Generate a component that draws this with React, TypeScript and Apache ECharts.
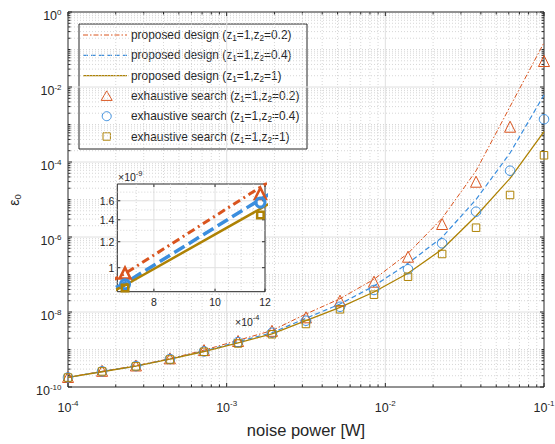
import React, { useEffect, useRef } from 'react';
import * as echarts from 'echarts';

// ---------------- data ----------------
const noisePower = [1e-4, 1.64e-4, 2.68e-4, 4.39e-4, 7.2e-4, 1.18e-3, 1.93e-3, 3.16e-3, 5.18e-3, 8.48e-3, 1.39e-2, 2.28e-2, 3.73e-2, 6.11e-2, 1e-1];

const proposedZ02 = [1.82e-10, 2.62e-10, 3.7e-10, 5.7e-10, 9.6e-10, 1.76e-9, 3.2e-9, 8.85e-9, 2.26e-8, 7.45e-8, 3.67e-7, 3.15e-6, 5.8e-5, 3.0e-3, 1.52e-1];
const proposedZ04 = [1.8e-10, 2.58e-10, 3.62e-10, 5.6e-10, 8.98e-10, 1.616e-9, 2.8e-9, 6.79e-9, 1.63e-8, 4.93e-8, 1.99e-7, 9.8e-7, 1.0e-5, 1.74e-4, 6.12e-3];
const proposedZ1 = [1.8e-10, 2.55e-10, 3.6e-10, 5.5e-10, 8.84e-10, 1.513e-9, 2.6e-9, 5.86e-9, 1.33e-8, 3.41e-8, 1.08e-7, 4.7e-7, 3.63e-6, 3.67e-5, 6.43e-4];

const exhaustiveZ02 = [1.85e-10, 2.7e-10, 3.75e-10, 5.8e-10, 9.63e-10, 1.685e-9, 3.15e-9, 7.22e-9, 2.0e-8, 6.43e-8, 2.98e-7, 2.22e-6, 2.98e-5, 8.73e-4, 4.93e-2];
const exhaustiveZ04 = [1.8e-10, 2.62e-10, 3.6e-10, 5.55e-10, 8.9e-10, 1.58e-9, 2.8e-9, 5.86e-9, 1.38e-8, 3.86e-8, 1.38e-7, 6.79e-7, 4.73e-6, 5.86e-5, 1.38e-3];
const exhaustiveZ1 = [1.78e-10, 2.6e-10, 3.55e-10, 5.4e-10, 8.68e-10, 1.448e-9, 2.55e-9, 4.79e-9, 1.18e-8, 2.89e-8, 8.73e-8, 3.52e-7, 1.77e-6, 1.32e-5, 1.51e-4];

const seriesNames = [
  'proposed design (z1=1,z2=0.2)',
  'proposed design (z1=1,z2=0.4)',
  'proposed design (z1=1,z2=1)',
  'exhaustive search (z1=1,z2=0.2)',
  'exhaustive search (z1=1,z2=0.4)',
  'exhaustive search (z1=1,z2=1)',
];
const legendLabels = [
  'proposed design (z{s|1}=1,z{s|2}=0.2)',
  'proposed design (z{s|1}=1,z{s|2}=0.4)',
  'proposed design (z{s|1}=1,z{s|2}=1)',
  'exhaustive search (z{s|1}=1,z{s|2}=0.2)',
  'exhaustive search (z{s|1}=1,z{s|2}=0.4)',
  'exhaustive search (z{s|1}=1,z{s|2}=1)',
];

const xTickExponents = [-4, -3, -2, -1];
const yTickExponents = [0, -2, -4, -6, -8, -10];

const insetXTicks = [8e-4, 1e-3, 1.2e-3];
const insetXTickLabels = ['8', '10', '12'];
const insetXMinor = [7.5e-4, 8.5e-4, 9e-4, 9.5e-4, 1.05e-3, 1.1e-3, 1.15e-3];
const insetYTicks = [1e-9, 1.2e-9, 1.4e-9, 1.6e-9];
const insetYTickLabels = ['1', '1.2', '1.4', '1.6'];
const insetYMinor = [0.9e-9, 1.1e-9, 1.3e-9, 1.5e-9, 1.7e-9];

// ---------------- styles ----------------
const FONT = '"Liberation Sans", Arial, Helvetica, sans-serif';
const INK = '#262626';
const RED = '#D9541E';
const BLUE = '#3B8EDE';
const GOLD = '#AE8204';
const MAJOR = { stroke: '#e0e0e0', lineWidth: 1 };
const MINOR = { stroke: '#cccccc', lineWidth: 0.8, lineDash: [1, 2] };
const TICK = { stroke: INK, lineWidth: 1 };
const CLEAR = 'rgba(255,255,255,0)';

const seriesColors = [RED, BLUE, GOLD];
const mainDashes: any[] = [[5, 2, 1.5, 2], [5, 3], null];
const mainWidths = [1, 1.2, 1.3];

type Decor = { x: number; y: number; dir: 'v' | 'h'; major: boolean; label?: string };

const zip = (xs: number[], ys: number[]) => xs.map((x, i) => [x, ys[i]]);

// main axes decorations (log grid, ticks, labels)
const mainDecor: Decor[] = [];
for (let e = -4; e <= -1; e++) {
  const major = xTickExponents.includes(e);
  mainDecor.push({ x: Math.pow(10, e), y: 1e-5, dir: 'v', major, label: major ? `10{p|${e}}` : undefined });
  if (e < -1) for (let m = 2; m <= 9; m++) mainDecor.push({ x: m * Math.pow(10, e), y: 1e-5, dir: 'v', major: false });
}
for (let e = -10; e <= 0; e++) {
  const major = yTickExponents.includes(e);
  mainDecor.push({ x: 1e-3, y: Math.pow(10, e), dir: 'h', major, label: major ? `10{p|${e}}` : undefined });
  if (e < 0) for (let m = 2; m <= 9; m++) mainDecor.push({ x: 1e-3, y: m * Math.pow(10, e), dir: 'h', major: false });
}

const insetDecor: Decor[] = [];
insetXTicks.forEach((v, i) => insetDecor.push({ x: v, y: 1e-9, dir: 'v', major: true, label: insetXTickLabels[i] }));
insetXMinor.forEach((v) => insetDecor.push({ x: v, y: 1e-9, dir: 'v', major: false }));
insetYTicks.forEach((v, i) => insetDecor.push({ x: 1e-3, y: v, dir: 'h', major: true, label: insetYTickLabels[i] }));
insetYMinor.forEach((v) => insetDecor.push({ x: 1e-3, y: v, dir: 'h', major: false }));

type DecorCfg = {
  majorLen: number; minorLen: number; fontSize: number; supSize: number;
  xLabelDy: number; yLabelDx: number; yLabelDy: number;
};

function labelStyle(text: string, align: string, cfg: DecorCfg) {
  return {
    legacy: false,
    text,
    align,
    verticalAlign: 'middle',
    fontSize: cfg.fontSize,
    fontFamily: FONT,
    lineHeight: cfg.supSize > 0 ? 16 : cfg.fontSize + 2,
    fill: INK,
    rich: {
      p: { fontSize: cfg.supSize, lineHeight: 8, verticalAlign: 'top', fill: INK, fontFamily: FONT },
    },
  };
}

function decorRenderer(items: Decor[], cfg: DecorCfg) {
  return (params: any, api: any) => {
    const it = items[params.dataIndex];
    const cs = params.coordSys;
    const l = cs.x, t = cs.y, r = cs.x + cs.width, b = cs.y + cs.height;
    const p = api.coord([it.x, it.y]);
    const children: any[] = [];
    const len = it.major ? cfg.majorLen : cfg.minorLen;
    if (it.dir === 'v') {
      const x = p[0];
      if (x > l + 0.8 && x < r - 0.8) children.push({ type: 'line', shape: { x1: x, y1: t, x2: x, y2: b }, style: it.major ? MAJOR : MINOR });
      if (len > 0) {
        children.push({ type: 'line', shape: { x1: x, y1: b, x2: x, y2: b - len }, style: TICK });
        children.push({ type: 'line', shape: { x1: x, y1: t, x2: x, y2: t + len }, style: TICK });
      }
      if (it.label) children.push({ type: 'text', x, y: b + cfg.xLabelDy, style: labelStyle(it.label, 'center', cfg) });
    } else {
      const y = p[1];
      if (y > t + 0.8 && y < b - 0.8) children.push({ type: 'line', shape: { x1: l, y1: y, x2: r, y2: y }, style: it.major ? MAJOR : MINOR });
      if (len > 0) {
        children.push({ type: 'line', shape: { x1: l, y1: y, x2: l + len, y2: y }, style: TICK });
        children.push({ type: 'line', shape: { x1: r, y1: y, x2: r - len, y2: y }, style: TICK });
      }
      if (it.label) children.push({ type: 'text', x: l - cfg.yLabelDx, y: y + cfg.yLabelDy, style: labelStyle(it.label, 'right', cfg) });
    }
    return { type: 'group', children };
  };
}

const mainCfg: DecorCfg = { majorLen: 4, minorLen: 2.5, fontSize: 12.5, supSize: 8, xLabelDy: 20.5, yLabelDx: 6.5, yLabelDy: 4 };
const insetCfg: DecorCfg = { majorLen: 3, minorLen: 0, fontSize: 10.5, supSize: 0, xLabelDy: 10.5, yLabelDx: 3, yLabelDy: 0 };

function supText(x: number, y: number, text: string, size: number, supSize: number) {
  return {
    type: 'text', x, y, z: 20,
    style: {
      legacy: false, text, align: 'left', verticalAlign: 'middle', fontSize: size, fontFamily: FONT, fill: INK, lineHeight: 16,
      rich: { p: { fontSize: supSize, lineHeight: 8, verticalAlign: 'top', fill: INK, fontFamily: FONT } },
    },
  };
}

// legend drawn as a graphic group (box, samples, rich text)
function legendGraphic() {
  const rowGap = 20.3;
  const children: any[] = [
    { type: 'rect', shape: { x: 0, y: 0, width: 228, height: 125 }, style: { fill: '#fff', stroke: INK, lineWidth: 1 } },
  ];
  seriesNames.forEach((_, i) => {
    const cy = 11 + i * rowGap;
    const color = seriesColors[i % 3];
    if (i < 3) {
      children.push({
        type: 'line', shape: { x1: 4, y1: cy, x2: 48, y2: cy },
        style: { stroke: color, lineWidth: mainWidths[i], lineDash: mainDashes[i] || undefined },
      });
    } else if (i === 3) {
      children.push({ type: 'polygon', shape: { points: [[27.7, cy - 5], [33.2, cy + 4.5], [22.2, cy + 4.5]] }, style: { fill: CLEAR, stroke: color, lineWidth: 1 } });
    } else if (i === 4) {
      children.push({ type: 'circle', shape: { cx: 27.7, cy, r: 4.5 }, style: { fill: CLEAR, stroke: color, lineWidth: 1 } });
    } else {
      children.push({ type: 'rect', shape: { x: 24, y: cy - 3.7, width: 7.4, height: 7.4 }, style: { fill: CLEAR, stroke: color, lineWidth: 1 } });
    }
    children.push({
      type: 'text', x: 52, y: cy,
      style: {
        legacy: false, text: legendLabels[i], align: 'left', verticalAlign: 'middle', fontSize: 11.9, fontFamily: FONT, fill: INK, lineHeight: 15,
        rich: { s: { fontSize: 8.2, lineHeight: 8, verticalAlign: 'bottom', fill: INK, fontFamily: FONT } },
      },
    });
  });
  return { type: 'group', x: 79, y: 24, z: 6, children };
}

function buildOption(): any {
  const lineSeries = (name: string | undefined, data: number[], color: string, width: number, type: any, gi: number, z: number) => ({
    type: 'line', name, xAxisIndex: gi, yAxisIndex: gi, data: zip(noisePower, data), symbol: 'none', showSymbol: false,
    color, lineStyle: { color, width, type }, z, clip: true, silent: true,
  });
  const markerSeries = (name: string | undefined, data: number[], color: string, symbol: string, size: number, bw: number, gi: number, z: number) => ({
    type: 'scatter', name, xAxisIndex: gi, yAxisIndex: gi, data: zip(noisePower, data), symbol, symbolSize: size,
    itemStyle: { color: CLEAR, borderColor: color, borderWidth: bw, opacity: 1 }, z, clip: true, silent: true,
  });
  const hiddenAxis = (gi: number, min: number, max: number) => ({
    type: 'log', logBase: 10, gridIndex: gi, min, max,
    axisLine: { show: false }, axisTick: { show: false }, axisLabel: { show: false }, splitLine: { show: false },
  });

  return {
    animation: false,
    backgroundColor: '#ffffff',
    grid: [
      { left: 68, top: 12, right: 11, bottom: 57, show: true, backgroundColor: '#fff', borderColor: INK, borderWidth: 1, z: 0 },
      { left: 117.3, top: 184, width: 147.7, height: 107.7, show: true, backgroundColor: '#fff', borderColor: INK, borderWidth: 1, z: 10 },
    ],
    xAxis: [hiddenAxis(0, 1e-4, 1e-1), hiddenAxis(1, 7e-4, 1.2e-3)],
    yAxis: [hiddenAxis(0, 1e-10, 1), hiddenAxis(1, 0.845e-9, 1.8e-9)],
    graphic: [
      legendGraphic(),
      {
        type: 'text', x: 306, y: 430, z: 20,
        style: { legacy: false, text: 'noise power [W]', align: 'center', verticalAlign: 'middle', fontSize: 16.5, fontFamily: FONT, fill: INK },
      },
      {
        type: 'text', x: 14, y: 200, rotation: Math.PI / 2, z: 20,
        style: {
          legacy: false, text: '{e|ε}{s|0}', align: 'center', verticalAlign: 'middle', fontSize: 14, fontFamily: FONT, fill: INK, lineHeight: 16,
          rich: { e: { fontSize: 14, fill: INK, fontFamily: FONT, lineHeight: 16 }, s: { fontSize: 9.5, lineHeight: 8, verticalAlign: 'bottom', fill: INK, fontFamily: FONT } },
        },
      },
      supText(118, 177, '×10{p|-9}', 10.5, 7.5),
      supText(235, 321.5, '×10{p|-4}', 10.5, 7.5),
    ],
    series: [
      { type: 'custom', coordinateSystem: 'cartesian2d', xAxisIndex: 0, yAxisIndex: 0, data: mainDecor.map((d) => [d.x, d.y]), renderItem: decorRenderer(mainDecor, mainCfg), clip: false, silent: true, z: 1 },
      lineSeries(seriesNames[0], proposedZ02, RED, mainWidths[0], mainDashes[0], 0, 3),
      lineSeries(seriesNames[1], proposedZ04, BLUE, mainWidths[1], mainDashes[1], 0, 3),
      lineSeries(seriesNames[2], proposedZ1, GOLD, mainWidths[2], 'solid', 0, 3),
      markerSeries(seriesNames[3], exhaustiveZ02, RED, 'triangle', 11, 1, 0, 4),
      markerSeries(seriesNames[4], exhaustiveZ04, BLUE, 'circle', 9.5, 1, 0, 4),
      markerSeries(seriesNames[5], exhaustiveZ1, GOLD, 'rect', 7.5, 1, 0, 4),
      { type: 'custom', coordinateSystem: 'cartesian2d', xAxisIndex: 1, yAxisIndex: 1, data: insetDecor.map((d) => [d.x, d.y]), renderItem: decorRenderer(insetDecor, insetCfg), clip: false, silent: true, z: 11 },
      lineSeries(undefined, proposedZ02, RED, 3, [8, 4, 2, 4], 1, 12),
      lineSeries(undefined, proposedZ04, BLUE, 3.5, [12, 5], 1, 12),
      lineSeries(undefined, proposedZ1, GOLD, 2.5, 'solid', 1, 12),
      markerSeries(undefined, exhaustiveZ02, RED, 'triangle', 11, 2.5, 1, 13),
      markerSeries(undefined, exhaustiveZ04, BLUE, 'circle', 9, 3, 1, 13),
      markerSeries(undefined, exhaustiveZ1, GOLD, 'rect', 6.5, 2.5, 1, 13),
    ],
  };
}

export default function App() {
  const ref = useRef<HTMLDivElement>(null);
  useEffect(() => {
    if (!ref.current) return;
    const chart = echarts.init(ref.current, null, { renderer: 'svg' });
    chart.setOption(buildOption());
    return () => chart.dispose();
  }, []);
  return <div ref={ref} style={{ position: 'absolute', left: 0, top: 0, width: 555, height: 444, background: '#fff' }} />;
}
